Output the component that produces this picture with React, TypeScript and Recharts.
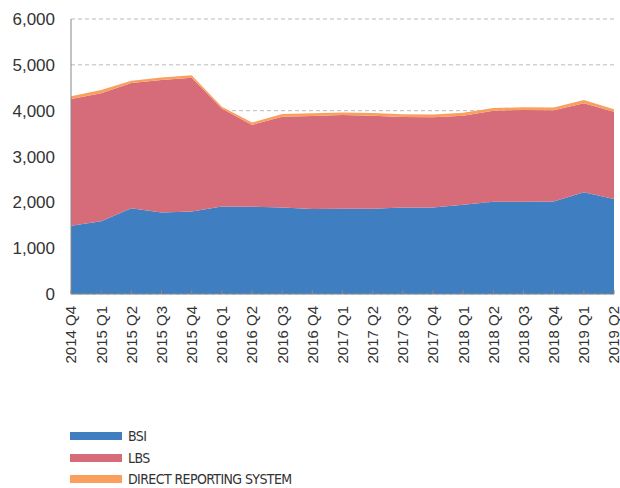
import React from 'react';
import { AreaChart, Area, XAxis, YAxis, CartesianGrid, Legend } from 'recharts';

const quarters = [
  '2014 Q4', '2015 Q1', '2015 Q2', '2015 Q3', '2015 Q4',
  '2016 Q1', '2016 Q2', '2016 Q3', '2016 Q4',
  '2017 Q1', '2017 Q2', '2017 Q3', '2017 Q4',
  '2018 Q1', '2018 Q2', '2018 Q3', '2018 Q4',
  '2019 Q1', '2019 Q2'
];

const bsi = [1490, 1590, 1870, 1780, 1800, 1910, 1905, 1885, 1855, 1860, 1860, 1890, 1890, 1950, 2015, 2015, 2020, 2220, 2075];
const lbs = [2765, 2790, 2735, 2890, 2920, 2140, 1785, 1985, 2030, 2045, 2030, 1970, 1965, 1940, 1985, 2000, 1990, 1940, 1900];
const drs = [58, 73, 50, 51, 51, 36, 50, 59, 58, 56, 58, 62, 64, 62, 60, 58, 58, 73, 58];

const yTicks = [0, 1000, 2000, 3000, 4000, 5000, 6000];

const SERIES = [
  { key: 'bsi', name: 'BSI', color: '#3f7fc1' },
  { key: 'lbs', name: 'LBS', color: '#d66c7a' },
  { key: 'drs', name: 'DIRECT REPORTING SYSTEM', color: '#f9a05e' }
];

const chartData = quarters.map((q, i) => ({
  quarter: q,
  bsi: bsi[i],
  lbs: lbs[i],
  drs: drs[i]
}));

const FONT = '"Liberation Sans", Arial, Helvetica, sans-serif';

const QuarterTick = ({ x, y, payload }: { x?: number; y?: number; payload?: { value: string } }) => (
  <text
    x={x}
    y={y}
    transform={`rotate(-90, ${x}, ${y})`}
    textAnchor="end"
    dy="0.36em"
    fontSize={15}
    fontFamily={FONT}
    fill="#333"
  >
    {payload?.value}
  </text>
);

// legend drawn in the series order, not recharts' alphabetical one
const LegendBox = () => (
  <div
    style={{
      fontFamily: '"Liberation Sans Narrow", "DejaVu Sans Condensed", sans-serif',
      fontSize: 14,
      letterSpacing: -0.6,
      color: '#333'
    }}
  >
    {SERIES.map((s) => (
      <div key={s.key} style={{ display: 'flex', alignItems: 'center', height: 21.7 }}>
        <span style={{ display: 'inline-block', width: 52, height: 8, background: s.color, marginRight: 6 }} />
        <span>{s.name}</span>
      </div>
    ))}
  </div>
);

export default function App() {
  return (
    <div style={{ position: 'absolute', left: 0, top: 0, width: 620, height: 488, background: '#fff' }}>
      <AreaChart width={620} height={488} data={chartData} margin={{ top: 19, right: 6, left: 0, bottom: 114 }}>
        <CartesianGrid vertical={false} stroke="#bbb" strokeDasharray="4 3" />
        <XAxis
          dataKey="quarter"
          interval={0}
          height={80}
          tickSize={-4}
          tickMargin={16}
          stroke="#888"
          tick={<QuarterTick />}
        />
        <YAxis
          width={71}
          domain={[0, 6000]}
          ticks={yTicks}
          tickLine={false}
          tickSize={0}
          tickMargin={16}
          stroke="#888"
          tick={{ fontSize: 17, fill: '#333', fontFamily: FONT }}
          tickFormatter={(v: number) => v.toLocaleString('en-US')}
        />
        {SERIES.map((s) => (
          <Area
            key={s.key}
            type="linear"
            dataKey={s.key}
            name={s.name}
            stackId="1"
            stroke="none"
            fill={s.color}
            fillOpacity={1}
            isAnimationActive={false}
          />
        ))}
        <Legend
          layout="horizontal"
          verticalAlign="middle"
          align="center"
          content={<LegendBox />}
          wrapperStyle={{ left: 70, top: 425, bottom: 'auto', right: 'auto', width: 300 }}
        />
      </AreaChart>
    </div>
  );
}
